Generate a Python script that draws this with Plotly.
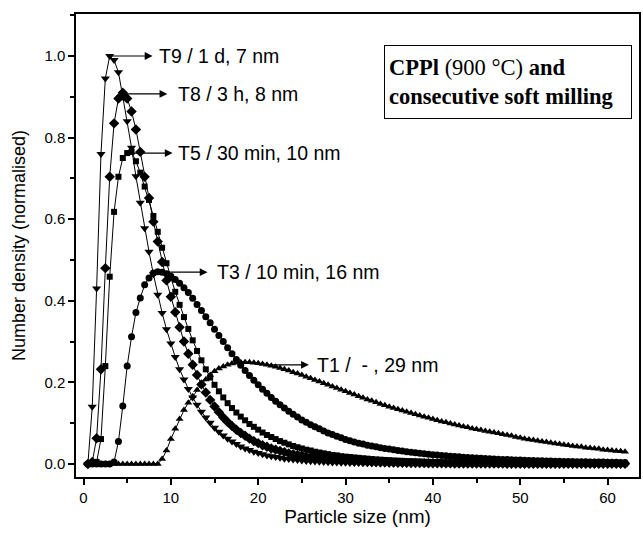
import plotly.graph_objects as go

size_nm = [0.5, 1.0, 1.5, 2.0, 2.5, 3.0, 3.5, 4.0, 4.5, 5.0,
           5.5, 6.0, 6.5, 7.0, 7.5, 8.0, 8.5, 9.0, 9.5, 10.0,
           10.5, 11.0, 11.5, 12.0, 12.5, 13.0, 13.5, 14.0, 14.5, 15.0,
           15.5, 16.0, 16.5, 17.0, 17.5, 18.0, 18.5, 19.0, 19.5, 20.0,
           20.5, 21.0, 21.5, 22.0, 22.5, 23.0, 23.5, 24.0, 24.5, 25.0,
           25.5, 26.0, 26.5, 27.0, 27.5, 28.0, 28.5, 29.0, 29.5, 30.0,
           30.5, 31.0, 31.5, 32.0, 32.5, 33.0, 33.5, 34.0, 34.5, 35.0,
           35.5, 36.0, 36.5, 37.0, 37.5, 38.0, 38.5, 39.0, 39.5, 40.0,
           40.5, 41.0, 41.5, 42.0, 42.5, 43.0, 43.5, 44.0, 44.5, 45.0,
           45.5, 46.0, 46.5, 47.0, 47.5, 48.0, 48.5, 49.0, 49.5, 50.0,
           50.5, 51.0, 51.5, 52.0, 52.5, 53.0, 53.5, 54.0, 54.5, 55.0,
           55.5, 56.0, 56.5, 57.0, 57.5, 58.0, 58.5, 59.0, 59.5, 60.0,
           60.5, 61.0, 61.5, 62.0]

t9 = [0.0, 0.14, 0.43, 0.76, 0.945, 1.0, 0.99, 0.96, 0.90, 0.84,
      0.775, 0.705, 0.64, 0.578, 0.52, 0.465, 0.415, 0.37, 0.33, 0.295,
      0.262, 0.232, 0.207, 0.184, 0.163, 0.145, 0.128, 0.114, 0.101, 0.089,
      0.079, 0.070, 0.062, 0.055, 0.049, 0.043, 0.038, 0.034, 0.030, 0.027,
      0.024, 0.021, 0.019, 0.017, 0.015, 0.013, 0.012, 0.011, 0.0095, 0.0085,
      0.0075, 0.0067, 0.006, 0.0053, 0.0047, 0.0042, 0.0038, 0.0034, 0.003, 0.0027,
      0.0025, 0.0023, 0.0021, 0.0019, 0.0017, 0.0016, 0.0015, 0.0014, 0.0013, 0.0012,
      0.0011, 0.001, 0.001, 0.0009, 0.0009, 0.0008, 0.0008, 0.0007, 0.0007, 0.0006,
      0.0006, 0.0006, 0.0005, 0.0005, 0.0005, 0.0005, 0.0004, 0.0004, 0.0004, 0.0004,
      0.0004, 0.0003, 0.0003, 0.0003, 0.0003, 0.0003, 0.0003, 0.0003, 0.0002, 0.0002,
      0.0002, 0.0002, 0.0002, 0.0002, 0.0002, 0.0002, 0.0002, 0.0002, 0.0002, 0.0002,
      0.0002, 0.0002, 0.0002, 0.0001, 0.0001, 0.0001, 0.0001, 0.0001, 0.0001, 0.0001,
      0.0001, 0.0001, 0.0001, 0.0001]

t8 = [0.0, 0.005, 0.063, 0.232, 0.48, 0.704, 0.835, 0.896, 0.91, 0.896,
      0.864, 0.82, 0.765, 0.704, 0.652, 0.594, 0.545, 0.495, 0.45, 0.41,
      0.372, 0.335, 0.30, 0.27, 0.243, 0.218, 0.195, 0.175, 0.157, 0.141,
      0.127, 0.114, 0.103, 0.093, 0.084, 0.076, 0.069, 0.062, 0.056, 0.051,
      0.046, 0.042, 0.038, 0.035, 0.032, 0.029, 0.026, 0.024, 0.022, 0.020,
      0.018, 0.0165, 0.015, 0.0137, 0.0125, 0.0114, 0.0104, 0.0095, 0.0087, 0.008,
      0.0073, 0.0067, 0.0062, 0.0057, 0.0052, 0.0048, 0.0044, 0.0041, 0.0038, 0.0035,
      0.0032, 0.003, 0.0028, 0.0026, 0.0024, 0.0022, 0.0021, 0.0019, 0.0018, 0.0017,
      0.0016, 0.0015, 0.0014, 0.0013, 0.0012, 0.0011, 0.0011, 0.001, 0.001, 0.0009,
      0.0009, 0.0008, 0.0008, 0.0007, 0.0007, 0.0007, 0.0006, 0.0006, 0.0006, 0.0005,
      0.0005, 0.0005, 0.0005, 0.0004, 0.0004, 0.0004, 0.0004, 0.0004, 0.0003, 0.0003,
      0.0003, 0.0003, 0.0003, 0.0003, 0.0003, 0.0003, 0.0003, 0.0003, 0.0003, 0.0003,
      0.0003, 0.0002, 0.0002, 0.0002]

t5 = [0.0, 0.0, 0.005, 0.061, 0.24, 0.459, 0.618, 0.704, 0.75, 0.762,
      0.765, 0.742, 0.714, 0.68, 0.647, 0.608, 0.569, 0.53, 0.492, 0.457,
      0.422, 0.39, 0.36, 0.331, 0.303, 0.277, 0.254, 0.232, 0.212, 0.194,
      0.178, 0.163, 0.149, 0.137, 0.126, 0.116, 0.107, 0.098, 0.091, 0.084,
      0.077, 0.071, 0.066, 0.061, 0.056, 0.052, 0.048, 0.044, 0.041, 0.038,
      0.035, 0.033, 0.030, 0.028, 0.026, 0.024, 0.022, 0.021, 0.019, 0.018,
      0.017, 0.016, 0.015, 0.014, 0.013, 0.012, 0.0112, 0.0105, 0.0098, 0.0092,
      0.0086, 0.008, 0.0075, 0.007, 0.0066, 0.0062, 0.0058, 0.0054, 0.0051, 0.0048,
      0.0045, 0.0042, 0.004, 0.0037, 0.0035, 0.0033, 0.0031, 0.0029, 0.0028, 0.0026,
      0.0025, 0.0023, 0.0022, 0.0021, 0.002, 0.0019, 0.0018, 0.0017, 0.0016, 0.0015,
      0.0014, 0.0014, 0.0013, 0.0012, 0.0012, 0.0011, 0.0011, 0.001, 0.001, 0.0009,
      0.0009, 0.0009, 0.0008, 0.0008, 0.0008, 0.0007, 0.0007, 0.0007, 0.0006, 0.0006,
      0.0006, 0.0006, 0.0005, 0.0005]

t3 = [0.0, 0.0, 0.0, 0.0, 0.0, 0.0, 0.005, 0.055, 0.142, 0.24,
      0.312, 0.371, 0.407, 0.439, 0.456, 0.468, 0.471, 0.47, 0.466, 0.46,
      0.452, 0.443, 0.432, 0.42, 0.406, 0.391, 0.376, 0.361, 0.346, 0.33,
      0.315, 0.30, 0.285, 0.27, 0.256, 0.242, 0.229, 0.217, 0.205, 0.194,
      0.183, 0.173, 0.163, 0.154, 0.145, 0.137, 0.129, 0.122, 0.115, 0.108,
      0.102, 0.096, 0.091, 0.086, 0.081, 0.076, 0.072, 0.068, 0.064, 0.060,
      0.057, 0.054, 0.051, 0.049, 0.046, 0.044, 0.042, 0.040, 0.038, 0.0365,
      0.0348, 0.0332, 0.0316, 0.0302, 0.0288, 0.0275, 0.0262, 0.025, 0.0239, 0.0228,
      0.0218, 0.0208, 0.0199, 0.019, 0.0182, 0.0174, 0.0166, 0.0159, 0.0152, 0.0145,
      0.0139, 0.0133, 0.0127, 0.0122, 0.0117, 0.0112, 0.0107, 0.0103, 0.0099, 0.0095,
      0.0091, 0.0087, 0.0084, 0.008, 0.0077, 0.0074, 0.0071, 0.0068, 0.0066, 0.0063,
      0.0061, 0.0058, 0.0056, 0.0054, 0.0052, 0.005, 0.0048, 0.0046, 0.0045, 0.0043,
      0.0041, 0.004, 0.0038, 0.0037]

t1 = [0.0, 0.0, 0.0, 0.0, 0.0, 0.0, 0.0, 0.0, 0.0, 0.0,
      0.0, 0.0, 0.0, 0.0, 0.0, 0.0, 0.0, 0.012, 0.033, 0.061,
      0.086, 0.11, 0.132, 0.15, 0.166, 0.181, 0.195, 0.207, 0.218, 0.227,
      0.234, 0.239, 0.243, 0.246, 0.248, 0.249, 0.249, 0.249, 0.248, 0.247,
      0.245, 0.243, 0.241, 0.238, 0.235, 0.232, 0.229, 0.225, 0.222, 0.218,
      0.214, 0.21, 0.206, 0.202, 0.198, 0.194, 0.19, 0.186, 0.182, 0.178,
      0.174, 0.170, 0.166, 0.162, 0.158, 0.155, 0.151, 0.147, 0.144, 0.14,
      0.137, 0.134, 0.131, 0.128, 0.125, 0.122, 0.119, 0.116, 0.113, 0.11,
      0.107, 0.104, 0.102, 0.099, 0.097, 0.094, 0.092, 0.09, 0.087, 0.085,
      0.083, 0.081, 0.079, 0.077, 0.075, 0.073, 0.071, 0.069, 0.066, 0.064,
      0.062, 0.06, 0.059, 0.057, 0.055, 0.054, 0.052, 0.05, 0.049, 0.047,
      0.046, 0.044, 0.043, 0.042, 0.04, 0.039, 0.038, 0.037, 0.035, 0.034,
      0.033, 0.032, 0.031, 0.030]

labels = ["T9 / 1 d, 7 nm", "T8 / 3 h, 8 nm", "T5 / 30 min, 10 nm",
          "T3 / 10 min, 16 nm", "T1 /\u00a0 - , 29 nm"]

series = [
    (t9, "triangle-down", 8),
    (t8, "diamond", 8),
    (t5, "square", 6),
    (t3, "circle", 7),
    (t1, "triangle-up", 7),
]

fig = go.Figure()
for (vals, sym, ms), name in zip(series, labels):
    fig.add_trace(go.Scatter(
        x=size_nm, y=vals, mode="lines+markers", name=name,
        line=dict(color="black", width=1),
        marker=dict(symbol=sym, size=ms, color="black"),
        showlegend=False))

SANS = "Liberation Sans, Arial, sans-serif"
SERIF = "Liberation Serif, Times New Roman, serif"

# arrows: (tail_x, tip_x, y, text_x)
arrow_pos = [(3.0, 7.9, 1.0, 8.4),
             (4.5, 9.6, 0.907, 10.6),
             (4.9, 10.2, 0.762, 10.6),
             (8.7, 14.2, 0.47, 15.0),
             (20.6, 25.8, 0.243, 26.5)]
anns = []
for (tx, hx, yy, lx), lab in zip(arrow_pos, labels):
    anns.append(dict(x=hx, y=yy, ax=tx, ay=yy, xref="x", yref="y",
                     axref="x", ayref="y", text="", showarrow=True,
                     arrowhead=2, arrowsize=1.3, arrowwidth=1.2,
                     arrowcolor="black", standoff=0, startstandoff=0))
    anns.append(dict(x=lx, y=yy, xref="x", yref="y", text=lab,
                     showarrow=False, xanchor="left", yanchor="middle",
                     font=dict(family=SANS, size=19.5, color="black")))

anns.append(dict(x=34.4, y=1.027, xref="x", yref="y", xanchor="left",
                 yanchor="top", showarrow=False, align="left",
                 text="<b>CPPl</b> (900 °C) <b>and</b><br><b>consecutive soft milling</b>",
                 font=dict(family=SERIF, size=22.5, color="black"),
                 bordercolor="black", borderwidth=1, borderpad=4,
                 width=238, height=64, bgcolor="white"))

axis_common = dict(showline=True, linecolor="black", linewidth=1.5,
                   mirror=True, ticks="outside", ticklen=6, tickwidth=1.5,
                   tickcolor="black", showgrid=False, zeroline=False,
                   tickfont=dict(family=SANS, size=15, color="black"))

fig.update_layout(
    width=643, height=537,
    margin=dict(l=76, r=2, t=14, b=60),
    plot_bgcolor="white", paper_bgcolor="white",
    annotations=anns,
    xaxis=dict(range=[-0.86, 63.6], dtick=10, tick0=0,
               minor=dict(ticks="outside", ticklen=4, dtick=5, tick0=0,
                          tickcolor="black", tickwidth=1.5),
               title=dict(text="Particle size (nm)", standoff=1,
                          font=dict(family=SANS, size=19, color="black")),
               **axis_common),
    yaxis=dict(range=[-0.032, 1.103], dtick=0.2, tick0=0, tickformat=".1f",
               minor=dict(ticks="outside", ticklen=4, dtick=0.1, tick0=0,
                          tickcolor="black", tickwidth=1.5),
               title=dict(text="Number density (normalised)", standoff=14,
                          font=dict(family=SANS, size=18, color="black")),
               **axis_common),
)

fig.write_html("out.html")
